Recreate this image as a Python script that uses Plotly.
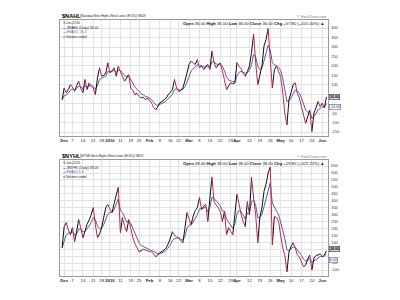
import pandas as pd
import plotly.graph_objects as go

# ---------------- data ----------------
holidays = ["2009-11-26", "2009-12-25", "2010-01-01", "2010-01-18",
            "2010-02-15", "2010-04-02", "2010-05-31"]
dates = [d for d in pd.bdate_range("2009-11-30", "2010-06-03")
         if d.strftime("%Y-%m-%d") not in holidays]

nahl = [21, 83, 57, 75, 101, 88, 65, 95, 119, 80,
        57, 128, 74, 110, 95, 83, 48, 137, 190, 145,
        150, 163, 217, 163, 175, 190, 145, 199, 170, 145,
        119, 135, 154, 83, 70, 48, 55, 39, 30, 35,
        21, 30, 18, 3, -20, -33, -15, 5, 12, 21,
        30, 48, 60, 74, 128, 83, 65, 70, 83, 120,
        163, 208, 226, 215, 208, 234, 190, 200, 181, 195,
        208, 181, 279, 217, 190, 205, 215, 172, 128, 74,
        95, 110, 105, 110, 217, 199, 185, 160, 145, 170,
        199, 270, 368, 217, 101, 150, 199, 306, 340, 398,
        234, 83, 181, 199, 170, 145, 57, -50, -113, 21,
        60, 101, 110, 55, 30, -15, -60, -104, -68, -33,
        -148, -50, -20, 12, -15, 3, -22, 36]

nyhl = [60, 213, 242, 190, 155, 206, 104, 180, 264, 200,
        133, 180, 230, 260, 300, 351, 228, 133, 160, 206,
        280, 351, 373, 340, 315, 380, 440, 497, 170, 279,
        220, 177, 264, 200, 133, 90, 60, 31, 40, 50,
        45, 38, 35, 31, 15, -5, 10, 24, 35, 45,
        60, 90, 130, 177, 150, 140, 133, 110, 96, 200,
        315, 270, 228, 290, 330, 351, 424, 337, 360, 373,
        250, 420, 570, 395, 370, 351, 322, 250, 322, 155,
        206, 177, 155, 300, 446, 380, 300, 250, 213, 395,
        300, 570, 420, 300, 97, 279, 350, 468, 520, 600,
        643, 82, 286, 279, 250, 150, 60, 9, -114, 31,
        70, 97, 60, 9, -5, -40, -78, -63, -20, 9,
        -100, -13, 5, 9, 17, -5, 8, 38]

tick_dates = ["2009-12-01", "2009-12-07", "2009-12-14", "2009-12-21", "2009-12-28",
              "2010-01-04", "2010-01-11", "2010-01-19", "2010-01-25",
              "2010-02-01", "2010-02-08", "2010-02-16", "2010-02-22",
              "2010-03-01", "2010-03-08", "2010-03-15", "2010-03-22", "2010-03-29",
              "2010-04-01", "2010-04-12", "2010-04-19", "2010-04-26",
              "2010-05-03", "2010-05-10", "2010-05-17", "2010-05-24", "2010-06-01"]
tick_labels = ["<b>Dec</b>", "7", "14", "21", "28",
               "<b>2010</b>", "11", "19", "25",
               "<b>Feb</b>", "8", "16", "22",
               "<b>Mar</b>", "8", "15", "22", "29",
               "<b>Apr</b>", "12", "19", "26",
               "<b>May</b>", "10", "17", "24", "<b>Jun</b>"]

symbols = ["$NAHL", "$NYHL"]
descriptions = ["(Nasdaq New Highs-New Lows (EOD)) INDX", "(NYSE New Highs-New Lows (EOD)) INDX"]
last_vals = ["36.00", "38.00"]
ema_legend = ["-16.6", "6.0"]
ema_labels = ["-16.60", "6.00"]
ema_vals = [-16.6, 6.0]
changes = ["+57.80 (+101.00%)", "+29.80 (+322.22%)"]
y_ticks = [list(range(-150, 401, 50)), list(range(-100, 651, 50))]
y_hidden = [[0, 50], [0, 50]]          # tick labels hidden behind the value boxes
y_ranges = [[-171, 443], [-143, 694]]

# ---------------- figure ----------------
UP = "#111111"
DOWN = "#c8234f"
EMA_C = "#5a5aa8"
FONT = "Liberation Sans"

fig = go.Figure()
series = [nahl, nyhl]
for k, vals in enumerate(series):
    xa = "x" if k == 0 else "x2"
    ya = "y" if k == 0 else "y2"
    ema = pd.Series(vals).ewm(span=5, adjust=False).mean().tolist()
    fig.add_trace(go.Scatter(x=dates, y=ema, mode="lines", xaxis=xa, yaxis=ya,
                             line=dict(color=EMA_C, width=1), showlegend=False,
                             hoverinfo="skip"))
    ux, uy, dx, dy = [], [], [], []
    for i in range(1, len(vals)):
        if vals[i] >= vals[i - 1]:
            ux += [dates[i - 1], dates[i], None]
            uy += [vals[i - 1], vals[i], None]
        else:
            dx += [dates[i - 1], dates[i], None]
            dy += [vals[i - 1], vals[i], None]
    fig.add_trace(go.Scatter(x=ux, y=uy, mode="lines", xaxis=xa, yaxis=ya,
                             line=dict(color=UP, width=1), showlegend=False,
                             connectgaps=False))
    fig.add_trace(go.Scatter(x=dx, y=dy, mode="lines", xaxis=xa, yaxis=ya,
                             line=dict(color=DOWN, width=1), showlegend=False,
                             connectgaps=False))

XL, XR = 60 / 400, 327.5 / 400
doms = [[1 - 136 / 300, 1 - 20 / 300], [1 - 276 / 300, 1 - 160 / 300]]

xcommon = dict(domain=[XL, XR], type="date",
               range=["2009-11-27", "2010-06-03 12:00"],
               rangebreaks=[dict(bounds=["sat", "mon"]), dict(values=holidays)],
               tickmode="array", tickvals=tick_dates, ticktext=tick_labels,
               tickfont=dict(size=4.2, color="#222", family=FONT), ticks="",
               showgrid=True, gridcolor="#e2e2e2", gridwidth=1,
               showline=True, linecolor="#9a9a9a", linewidth=1, mirror=True,
               zeroline=False, tickangle=0)
fig.update_layout(
    xaxis=dict(**xcommon, anchor="y"),
    xaxis2=dict(**xcommon, anchor="y2"),
)
for k in range(2):
    key = "yaxis" if k == 0 else "yaxis2"
    ttext = ["" if t in y_hidden[k] else str(t) for t in y_ticks[k]]
    fig.layout[key] = dict(domain=doms[k], anchor="x" if k == 0 else "x2",
                           side="right", range=y_ranges[k], tickmode="array",
                           tickvals=y_ticks[k], ticktext=ttext, ticks="",
                           tickfont=dict(size=3.9, color="#333", family=FONT),
                           showgrid=True, gridcolor="#e2e2e2", gridwidth=1,
                           showline=True, linecolor="#9a9a9a", linewidth=1,
                           mirror=True, zeroline=False, ticklabelstandoff=2)

ann = []
for k in range(2):
    top_px = 20 if k == 0 else 160
    yr = "y" if k == 0 else "y2"
    # title
    ann.append(dict(x=XL, y=1 - (top_px - 4) / 300, xref="paper", yref="paper",
                    xanchor="left", yanchor="middle", showarrow=False,
                    text="<b>%s</b>" % symbols[k],
                    font=dict(size=5.6, color="#000", family=FONT)))
    ann.append(dict(x=XL + 18 / 400, y=1 - (top_px - 4) / 300, xref="paper", yref="paper",
                    xanchor="left", yanchor="middle", showarrow=False,
                    text=descriptions[k],
                    font=dict(size=3.3, color="#222", family=FONT)))
    ann.append(dict(x=XR, y=1 - (top_px - 3) / 300, xref="paper", yref="paper",
                    xanchor="right", yanchor="middle", showarrow=False,
                    text="© StockCharts.com",
                    font=dict(size=3.4, color="#777", family=FONT)))
    # date and ohlc row
    ann.append(dict(x=XL + 1 / 400, y=1 - (top_px + 3) / 300, xref="paper", yref="paper",
                    xanchor="left", yanchor="middle", showarrow=False,
                    text="3-Jun-2010",
                    font=dict(size=3.4, color="#222", family=FONT)))
    v = last_vals[k]
    ann.append(dict(x=XR - 1 / 400, y=1 - (top_px + 3) / 300, xref="paper", yref="paper",
                    xanchor="right", yanchor="middle", showarrow=False,
                    text="<b>Open</b> %s <b>High</b> %s <b>Low</b> %s <b>Close</b> %s <b>Chg</b> %s ▲"
                         % (v, v, v, v, changes[k]),
                    font=dict(size=4.2, color="#111", family=FONT)))
    # legend
    leg = ["<span style='color:%s'><b>—</b></span> %s (Daily) %s" % (UP, symbols[k], last_vals[k]),
           "<span style='color:%s'><b>—</b></span><span style='color:%s'>EMA(5) %s</span>"
           % (EMA_C, EMA_C, ema_legend[k]),
           "<span style='color:#888'>■</span> Volume undef"]
    for j, t in enumerate(leg):
        ann.append(dict(x=XL + 1 / 400, y=1 - (top_px + 8 + 4.4 * j) / 300,
                        xref="paper", yref="paper", xanchor="left", yanchor="middle",
                        showarrow=False, text=t,
                        font=dict(size=3.4, color="#222", family=FONT)))
    # last value boxes
    ann.append(dict(x=XR + 1.5 / 400, y=float(last_vals[k]) + (0 if k == 0 else 14),
                    xref="paper", yref=yr,
                    xanchor="left", yanchor="middle", showarrow=False,
                    text="<b>%s</b>" % last_vals[k], bgcolor="#d8d8d8",
                    bordercolor="#333", borderwidth=0.6, borderpad=0.4,
                    font=dict(size=3.6, color="#000", family=FONT)))
    ann.append(dict(x=XR + 1.5 / 400, y=ema_vals[k] - (0 if k == 0 else 30), xref="paper", yref=yr,
                    xanchor="left", yanchor="middle", showarrow=False,
                    text=ema_labels[k], bgcolor="#ffffff",
                    bordercolor=EMA_C, borderwidth=0.6, borderpad=0.4,
                    font=dict(size=3.6, color="#333", family=FONT)))

fig.update_layout(width=400, height=300, margin=dict(l=0, r=0, t=0, b=0),
                  paper_bgcolor="white", plot_bgcolor="white",
                  annotations=ann, showlegend=False,
                  font=dict(family=FONT))
fig.write_html("out.html")
